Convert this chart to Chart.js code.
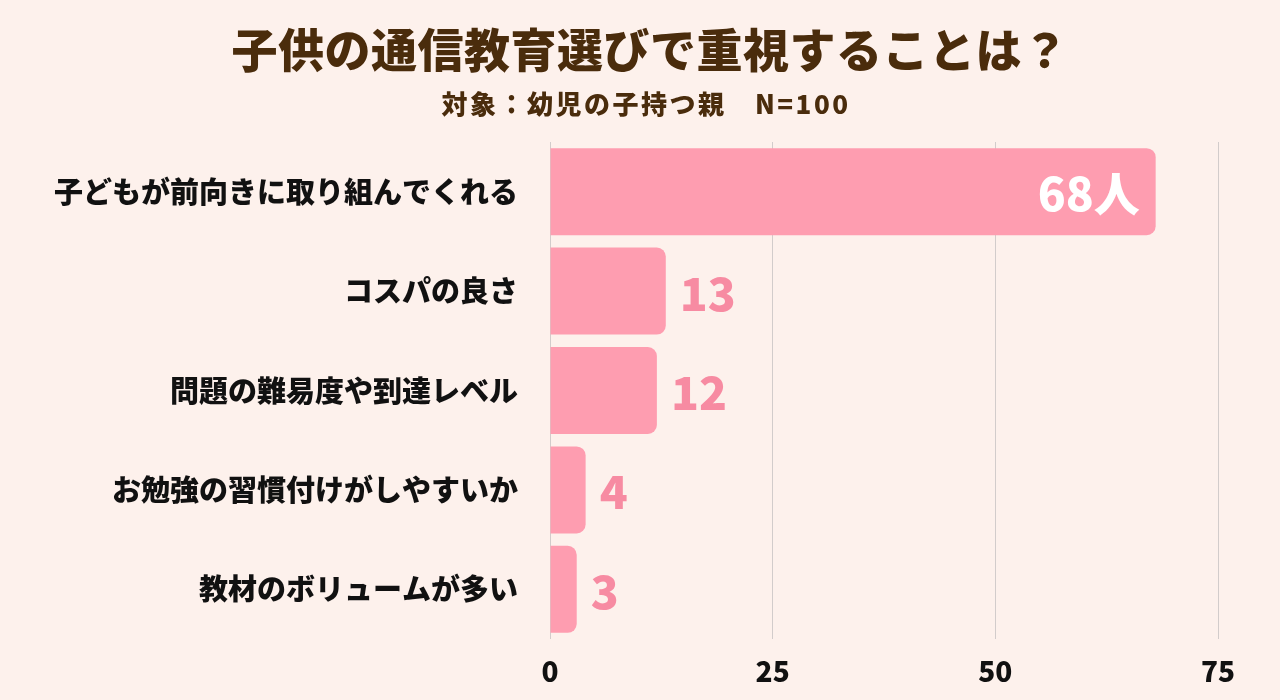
<!DOCTYPE html>
<html>
<head>
<meta charset="utf-8">
<script src="https://cdn.jsdelivr.net/npm/chart.js@4.4.1/dist/chart.umd.min.js"></script>
<style>
  html, body { margin: 0; padding: 0; background: #fdf1ec; }
  #wrap { width: 1280px; height: 700px; position: relative; }
</style>
</head>
<body>
<div id="wrap"><canvas id="chart1"></canvas></div>
<script>
// データ
var titleText = '子供の通信教育選びで重視することは？';
var subtitleText = '対象：幼児の子持つ親　N=100';
var categories = [
    '子どもが前向きに取り組んでくれる',
    'コスパの良さ',
    '問題の難易度や到達レベル',
    'お勉強の習慣付けがしやすいか',
    '教材のボリュームが多い'
];
var counts = [68, 13, 12, 4, 3];
var xTicks = [0, 25, 50, 75];
var unitText = '人';

var jpFont = '"Noto Sans CJK JP", "Noto Sans", sans-serif';

// タイトルと数値ラベル
var labelPlugin = {
    id: 'labelPlugin',
    afterDraw: function(chart) {
        var ctx = chart.ctx;
        ctx.save();
        ctx.fillStyle = '#4a2c0c';
        ctx.textAlign = 'center';
        ctx.textBaseline = 'middle';
        ctx.font = '900 46px ' + jpFont;
        ctx.letterSpacing = '0.5px';
        ctx.fillText(titleText, 650, 50);
        ctx.font = '900 26px ' + jpFont;
        ctx.letterSpacing = '2.5px';
        ctx.fillText(subtitleText, 646, 104);
        ctx.letterSpacing = '0px';

        var meta = chart.getDatasetMeta(0);
        meta.data.forEach(function(bar, i) {
            var v = counts[i];
            if (i === 0) {
                ctx.fillStyle = '#ffffff';
                ctx.textAlign = 'right';
                ctx.font = '900 46px ' + jpFont;
                ctx.fillText(v + unitText, bar.x - 16, bar.y + 2);
            } else {
                ctx.fillStyle = '#f78ba2';
                ctx.textAlign = 'left';
                ctx.font = '900 46px ' + jpFont;
                ctx.fillText(String(v), bar.x + 14, bar.y + 2);
            }
        });
        ctx.restore();
    }
};

var ctx = document.getElementById('chart1');
var chart1 = new Chart(ctx, {
    type: 'bar',
    data: {
        labels: categories,
        datasets: [{
            data: counts,
            backgroundColor: '#fe9db0',
            borderRadius: 9,
            borderSkipped: 'start',
            barPercentage: 0.875,
            categoryPercentage: 1
        }]
    },
    options: {
        indexAxis: 'y',
        responsive: true,
        maintainAspectRatio: false,
        animation: false,
        layout: { padding: { top: 142, right: 62, left: 0, bottom: 0 } },
        scales: {
            x: {
                min: 0,
                max: 75,
                afterBuildTicks: function(axis) {
                    axis.ticks = xTicks.map(function(t) { return { value: t }; });
                },
                grid: { color: '#d2cccb', lineWidth: 1, drawTicks: false },
                border: { display: false },
                ticks: {
                    padding: 16,
                    color: '#111111',
                    font: { family: jpFont, size: 28, weight: '900' }
                },
                afterFit: function(axis) { axis.height = 61; }
            },
            y: {
                grid: { display: false, drawTicks: false },
                border: { display: false },
                ticks: {
                    padding: 32,
                    color: '#111111',
                    font: { family: jpFont, size: 29, weight: '900' }
                },
                afterFit: function(axis) { axis.width = 550; }
            }
        },
        plugins: {
            legend: { display: false },
            title: { display: false },
            tooltip: { enabled: false }
        }
    },
    plugins: [labelPlugin]
});
</script>
</body>
</html>
